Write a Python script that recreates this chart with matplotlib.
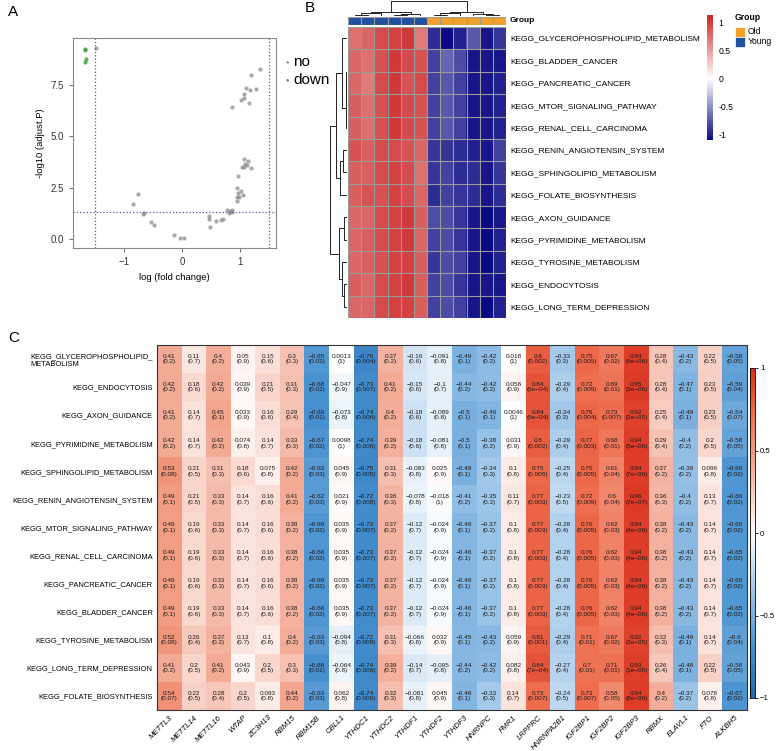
import numpy as np
import matplotlib.pyplot as plt
from matplotlib.colors import LinearSegmentedColormap
from matplotlib.patches import Rectangle

plt.rcParams['font.family'] = ['Liberation Sans', 'DejaVu Sans']

W, H = 777, 751


def box(x0, y0, x1, y1):
    # pixel box, origin top-left -> figure fraction
    return [x0 / W, 1 - y1 / H, (x1 - x0) / W, (y1 - y0) / H]


def ftxt(x, y, s, **kw):
    fig.text(x / W, 1 - y / H, s, **kw)


# ---------------- panel A data ----------------
fc_no = [-1.48, 1.34, 1.19, 1.11, 1.17, 1.27, 1.06, 1.07, 1.01, 1.15, 0.87,
         1.06, 1.14, 1.09, 1.12, 1.04, 1.07, 1.19, 0.97, 0.95, 0.96, 1.02, 1.05,
         0.99, 0.95, 0.94, 0.78, 0.83, 0.87, 0.81, 0.86, -0.76, -0.84, -0.67,
         -0.65, -0.53, -0.48, -0.13, -0.03, 0.03, 0.46, 0.47, 0.49, 0.59, 0.68, 0.70]
logp_no = [9.28, 8.29, 8.0, 7.33, 7.25, 7.32, 7.04, 6.85, 6.76, 6.63, 6.41,
           3.87, 3.8, 3.67, 3.59, 3.51, 3.5, 3.43, 3.06, 2.46, 2.24, 2.33, 2.13,
           2.05, 2.02, 1.84, 1.40, 1.37, 1.40, 1.27, 1.30, 2.16, 1.71, 1.22,
           1.27, 0.81, 0.65, 0.20, 0.03, 0.03, 1.09, 0.94, 0.55, 0.89, 0.91, 0.94]
fc_down = [-1.68, -1.67, -1.66, -1.68]
logp_down = [9.25, 9.22, 8.76, 8.63]

# ---------------- panel B data ----------------
b_rows = ['KEGG_GLYCEROPHOSPHOLIPID_METABOLISM', 'KEGG_BLADDER_CANCER',
          'KEGG_PANCREATIC_CANCER', 'KEGG_MTOR_SIGNALING_PATHWAY',
          'KEGG_RENAL_CELL_CARCINOMA', 'KEGG_RENIN_ANGIOTENSIN_SYSTEM',
          'KEGG_SPHINGOLIPID_METABOLISM', 'KEGG_FOLATE_BIOSYNTHESIS',
          'KEGG_AXON_GUIDANCE', 'KEGG_PYRIMIDINE_METABOLISM',
          'KEGG_TYROSINE_METABOLISM', 'KEGG_ENDOCYTOSIS', 'KEGG_LONG_TERM_DEPRESSION']
b_groups = ['Young'] * 6 + ['Old'] * 6
b_vals = [
    [0.75, 0.80, 0.95, 1.00, 1.05, 0.70, -0.95, -1.10, -1.00, -0.75, -1.05, -0.90],
    [0.80, 0.75, 0.90, 1.05, 0.95, 0.90, -0.85, -0.70, -0.80, -1.05, -1.05, -1.05],
    [0.80, 0.70, 0.95, 1.05, 0.90, 0.95, -0.85, -0.75, -0.85, -1.05, -1.05, -1.00],
    [0.85, 0.75, 0.90, 1.05, 0.95, 0.90, -0.85, -0.75, -0.85, -1.05, -1.05, -1.00],
    [0.85, 0.75, 0.90, 1.05, 0.95, 0.90, -0.85, -0.75, -0.85, -1.05, -1.05, -1.00],
    [0.90, 0.85, 0.95, 0.95, 0.90, 0.80, -0.90, -0.90, -0.95, -1.00, -1.05, -0.85],
    [0.85, 0.85, 0.95, 1.00, 0.95, 0.75, -0.90, -0.85, -0.95, -0.95, -1.05, -0.90],
    [0.85, 0.90, 0.90, 1.00, 0.95, 0.80, -0.95, -0.85, -0.90, -0.95, -1.05, -0.95],
    [0.80, 0.80, 0.95, 1.00, 1.05, 0.85, -0.80, -0.80, -0.90, -1.05, -1.10, -1.05],
    [0.80, 0.85, 0.95, 1.00, 1.05, 0.80, -0.85, -0.80, -0.90, -1.05, -1.10, -1.00],
    [0.80, 0.85, 0.90, 1.00, 1.00, 0.85, -0.90, -0.80, -0.85, -1.05, -1.10, -1.00],
    [0.85, 0.80, 0.95, 1.00, 1.05, 0.85, -0.85, -0.80, -0.90, -1.05, -1.05, -1.05],
    [0.80, 0.80, 0.95, 1.00, 1.00, 0.85, -0.85, -0.80, -0.85, -1.05, -1.10, -1.00],
]
# dendrograms: (left, right, height), leaves are display positions
b_row_tree = (((0, (((1, 2, 0.05), 3, 0.08), 4, 0.12), 0.6),
               ((5, 6, 0.5), 7, 0.8), 1.3),
              ((8, 9, 0.4), (10, (11, 12, 0.3), 0.6), 0.9), 2.0)
b_col_tree = ((((0, 1, 0.4), 2, 0.7), ((3, 4, 0.3), 5, 0.6), 1.2),
              (((6, 7, 0.4), 8, 0.7), (9, (10, 11, 0.3), 0.6), 1.2), 4.0)

# ---------------- panel C data ----------------
c_rows = ['KEGG_GLYCEROPHOSPHOLIPID_\nMETABOLISM', 'KEGG_ENDOCYTOSIS',
          'KEGG_AXON_GUIDANCE', 'KEGG_PYRIMIDINE_METABOLISM',
          'KEGG_SPHINGOLIPID_METABOLISM', 'KEGG_RENIN_ANGIOTENSIN_SYSTEM',
          'KEGG_MTOR_SIGNALING_PATHWAY', 'KEGG_RENAL_CELL_CARCINOMA',
          'KEGG_PANCREATIC_CANCER', 'KEGG_BLADDER_CANCER',
          'KEGG_TYROSINE_METABOLISM', 'KEGG_LONG_TERM_DEPRESSION',
          'KEGG_FOLATE_BIOSYNTHESIS']
c_genes = ['METTL3', 'METTL14', 'METTL16', 'WTAP', 'ZC3H13', 'RBM15', 'RBM15B',
           'CBLL1', 'YTHDC1', 'YTHDC2', 'YTHDF1', 'YTHDF2', 'YTHDF3', 'HNRNPC',
           'FMR1', 'LRPPRC', 'HNRNPA2B1', 'IGF2BP1', 'IGF2BP2', 'IGF2BP3', 'RBMX',
           'ELAVL1', 'FTO', 'ALKBH5']
mtor_r = [0.49, 0.19, 0.33, 0.14, 0.16, 0.38, -0.66, 0.035, -0.73, 0.37, -0.12, -0.024,
          -0.46, -0.37, 0.1, 0.77, -0.28, 0.76, 0.62, 0.94, 0.38, -0.43, 0.14, -0.65]
mtor_p = [0.1, 0.6, 0.3, 0.7, 0.6, 0.2, 0.02, 0.9, 0.007, 0.2, 0.7, 0.9,
          0.1, 0.2, 0.8, 0.003, 0.4, 0.005, 0.03, 4e-06, 0.2, 0.2, 0.7, 0.02]
c_r = [
    [0.41, 0.11, 0.4, 0.05, 0.15, 0.3, -0.65, 0.0013, -0.76, 0.37, -0.16, -0.091,
     -0.49, -0.42, 0.018, 0.8, -0.33, 0.75, 0.67, 0.94, 0.28, -0.43, 0.22, -0.58],
    [0.42, 0.18, 0.42, 0.039, 0.21, 0.31, -0.68, -0.047, -0.73, 0.41, -0.15, -0.1,
     -0.44, -0.42, 0.056, 0.84, -0.29, 0.72, 0.69, 0.95, 0.28, -0.47, 0.23, -0.59],
    [0.41, 0.14, 0.45, 0.033, 0.16, 0.29, -0.69, -0.073, -0.74, 0.4, -0.18, -0.089,
     -0.5, -0.46, 0.0046, 0.84, -0.34, 0.76, 0.73, 0.92, 0.25, -0.49, 0.23, -0.54],
    [0.42, 0.14, 0.42, 0.074, 0.14, 0.33, -0.67, 0.0098, -0.74, 0.39, -0.18, -0.081,
     -0.5, -0.38, 0.031, 0.8, -0.29, 0.77, 0.68, 0.94, 0.29, -0.4, 0.2, -0.58],
    [0.53, 0.21, 0.31, 0.18, 0.075, 0.42, -0.63, 0.045, -0.75, 0.31, -0.083, 0.025,
     -0.49, -0.34, 0.1, 0.75, -0.25, 0.75, 0.61, 0.94, 0.37, -0.39, 0.096, -0.66],
    [0.49, 0.21, 0.33, 0.14, 0.16, 0.41, -0.62, 0.021, -0.72, 0.36, -0.078, -0.018,
     -0.41, -0.35, 0.11, 0.77, -0.23, 0.72, 0.6, 0.96, 0.36, -0.4, 0.13, -0.66],
    mtor_r, mtor_r, mtor_r, mtor_r,
    [0.52, 0.26, 0.37, 0.13, 0.1, 0.4, -0.63, -0.094, -0.72, 0.31, -0.066, 0.032,
     -0.45, -0.43, 0.059, 0.81, -0.29, 0.71, 0.67, 0.92, 0.32, -0.49, 0.14, -0.6],
    [0.41, 0.2, 0.41, 0.043, 0.2, 0.3, -0.69, -0.064, -0.74, 0.39, -0.14, -0.095,
     -0.44, -0.42, 0.082, 0.84, -0.27, 0.7, 0.71, 0.93, 0.26, -0.48, 0.22, -0.58],
    [0.54, 0.22, 0.28, 0.2, 0.093, 0.44, -0.63, 0.062, -0.74, 0.32, -0.081, 0.045,
     -0.46, -0.33, 0.14, 0.73, -0.24, 0.73, 0.58, 0.94, 0.4, -0.37, 0.078, -0.67],
]
c_p = [
    [0.2, 0.7, 0.2, 0.9, 0.6, 0.3, 0.02, 1, 0.004, 0.2, 0.6, 0.8,
     0.1, 0.2, 1, 0.002, 0.3, 0.005, 0.02, 6e-06, 0.4, 0.2, 0.5, 0.05],
    [0.2, 0.6, 0.2, 0.9, 0.5, 0.3, 0.02, 0.9, 0.007, 0.2, 0.6, 0.7,
     0.2, 0.2, 0.9, 6e-04, 0.4, 0.009, 0.01, 3e-06, 0.4, 0.1, 0.5, 0.04],
    [0.2, 0.7, 0.1, 0.9, 0.6, 0.4, 0.01, 0.8, 0.006, 0.2, 0.6, 0.8,
     0.1, 0.1, 1, 6e-04, 0.3, 0.004, 0.007, 2e-05, 0.4, 0.1, 0.5, 0.07],
    [0.2, 0.7, 0.2, 0.8, 0.7, 0.3, 0.02, 1, 0.006, 0.2, 0.6, 0.8,
     0.1, 0.2, 0.9, 0.002, 0.4, 0.003, 0.01, 5e-06, 0.4, 0.2, 0.5, 0.05],
    [0.08, 0.5, 0.3, 0.6, 0.8, 0.2, 0.03, 0.9, 0.005, 0.3, 0.8, 0.9,
     0.1, 0.3, 0.8, 0.005, 0.4, 0.005, 0.04, 7e-06, 0.2, 0.2, 0.8, 0.02],
    [0.1, 0.5, 0.3, 0.7, 0.6, 0.2, 0.03, 0.9, 0.008, 0.3, 0.8, 1,
     0.2, 0.3, 0.7, 0.003, 0.5, 0.009, 0.04, 7e-07, 0.3, 0.2, 0.7, 0.02],
    mtor_p, mtor_p, mtor_p, mtor_p,
    [0.08, 0.4, 0.2, 0.7, 0.8, 0.2, 0.03, 0.8, 0.009, 0.3, 0.8, 0.9,
     0.1, 0.2, 0.9, 0.001, 0.4, 0.01, 0.02, 3e-05, 0.3, 0.1, 0.7, 0.04],
    [0.2, 0.5, 0.2, 0.9, 0.5, 0.3, 0.01, 0.8, 0.006, 0.2, 0.7, 0.8,
     0.2, 0.2, 0.8, 7e-04, 0.4, 0.01, 0.01, 1e-05, 0.4, 0.1, 0.5, 0.05],
    [0.07, 0.5, 0.4, 0.5, 0.8, 0.2, 0.03, 0.8, 0.006, 0.3, 0.8, 0.9,
     0.1, 0.3, 0.7, 0.007, 0.5, 0.007, 0.05, 8e-06, 0.2, 0.2, 0.8, 0.02],
]

fig = plt.figure(figsize=(7.77, 7.51), dpi=100)

# ================= A: volcano =================
axA = fig.add_axes(box(73, 38, 276, 248))
axA.scatter(fc_no, logp_no, s=9, color='#8c8c8c', alpha=0.75, lw=0)
axA.scatter(fc_down, logp_down, s=9, color='#3f9b3f', alpha=0.8, lw=0)
axA.axvline(-1.5, color='#4b5bb5', ls=':', lw=0.9)
axA.axvline(1.5, color='#4b5bb5', ls=':', lw=0.9)
axA.axhline(-np.log10(0.05), color='#4b5bb5', ls=':', lw=0.9)
axA.set_xlim(-1.88, 1.62)
axA.set_ylim(-0.45, 9.79)
axA.set_xticks([-1, 0, 1])
axA.set_yticks([0, 2.5, 5, 7.5])
axA.set_yticklabels(['0.0', '2.5', '5.0', '7.5'])
axA.tick_params(labelsize=7, colors='#555555', length=3, width=0.6, labelcolor='#333333')
for s in axA.spines.values():
    s.set_color('#888888')
    s.set_linewidth(0.8)
axA.set_xlabel('log (fold change)', fontsize=6.8, labelpad=4)
axA.set_ylabel('-log10 (adjust.P)', fontsize=6.8, labelpad=4)
ftxt(287, 62, '\u25cf', fontsize=4, color='#8c8c8c', ha='center', va='center')
ftxt(287, 80, '\u25cf', fontsize=4, color='#3f9b3f', ha='center', va='center')
ftxt(293, 62, 'no', fontsize=11, va='center')
ftxt(293, 80, 'down', fontsize=11, va='center')

# ================= B: pheatmap =================
b_cmap = LinearSegmentedColormap.from_list('nwf', ['#000080', '#ffffff', '#CD2626'])
bv = np.array(b_vals)
nr, nc = bv.shape
x0B, x1B, y0B, y1B = 348, 506, 27, 318
axB = fig.add_axes(box(x0B, y0B, x1B, y1B))
axB.imshow(bv, cmap=b_cmap, vmin=-1.15, vmax=1.15, aspect='auto')
for i in range(nr + 1):
    axB.axhline(i - 0.5, color='#9a9a9a', lw=0.8)
for j in range(nc + 1):
    axB.axvline(j - 0.5, color='#9a9a9a', lw=0.8)
axB.set_xticks([])
axB.set_yticks(range(nr))
axB.set_yticklabels(b_rows, fontsize=6.0)
axB.yaxis.tick_right()
axB.tick_params(axis='y', length=0, pad=3)
for s in axB.spines.values():
    s.set_visible(False)

# annotation bar
grp_col = {'Old': '#F2A22A', 'Young': '#2050A0'}
axAnn = fig.add_axes(box(x0B, 17, x1B, 25))
for j, g in enumerate(b_groups):
    axAnn.add_patch(Rectangle((j, 0), 1, 1, facecolor=grp_col[g], edgecolor='#9a9a9a', lw=0.8))
axAnn.set_xlim(0, nc)
axAnn.set_ylim(0, 1)
axAnn.axis('off')
ftxt(510, 21, 'Group', fontsize=6.0, fontweight='bold', va='center')


def dendro(ax, tree, orient):
    def walk(node):
        if isinstance(node, int):
            return node, 0.0
        l, r, h = node
        pl, hl = walk(l)
        pr, hr = walk(r)
        if orient == 'top':
            ax.plot([pl, pl, pr, pr], [hl, h, h, hr], color='#222222', lw=0.7)
        else:
            ax.plot([hl, h, h, hr], [pl, pl, pr, pr], color='#222222', lw=0.7)
        return (pl + pr) / 2, h
    return walk(tree)


axCD = fig.add_axes(box(x0B, 1, x1B, 16))
dendro(axCD, b_col_tree, 'top')
axCD.set_xlim(-0.5, nc - 0.5)
axCD.set_ylim(0, b_col_tree[2] * 1.02)
axCD.axis('off')

axRD = fig.add_axes(box(330, y0B, 347, y1B))
dendro(axRD, b_row_tree, 'left')
axRD.set_ylim(nr - 0.5, -0.5)
axRD.set_xlim(b_row_tree[2] * 1.02, 0)
axRD.axis('off')

# legend colorbar
axBL = fig.add_axes(box(707, 15, 713, 140))
grad = np.linspace(1.14, -1.09, 100)[:, None]
axBL.imshow(grad, cmap=b_cmap, vmin=-1.15, vmax=1.15, aspect='auto',
            extent=[0, 1, -1.09, 1.14])
axBL.set_xticks([])
axBL.yaxis.tick_right()
axBL.set_yticks([1, 0.5, 0, -0.5, -1])
axBL.set_yticklabels(['1', '0.5', '0', '-0.5', '-1'], fontsize=6.2)
axBL.tick_params(axis='y', length=0, pad=4)
for s in axBL.spines.values():
    s.set_visible(False)

ftxt(735, 18, 'Group', fontsize=6.2, fontweight='bold', va='center')
for k, g in enumerate(['Old', 'Young']):
    yy = 27 + 10 * k
    fig.patches.append(Rectangle((735 / W, 1 - (yy + 10) / H), 10 / W, 10 / H,
                                 transform=fig.transFigure, facecolor=grp_col[g],
                                 edgecolor='white', lw=0.5))
    ftxt(748, yy + 5, g, fontsize=6.2, va='center')

# ================= C: correlation heatmap =================
c_cmap = LinearSegmentedColormap.from_list(
    'rb', [(0.0, '#2166AC'), (0.15, '#4690CF'), (0.3, '#92BFE6'), (0.5, '#FFFFFF'),
           (0.7, '#F4AE99'), (0.875, '#EE6A4B'), (1.0, '#D7301F')])
cr = np.array(c_r)
cp = np.array(c_p)
axC = fig.add_axes(box(157, 345, 747, 710))
axC.imshow(cr, cmap=c_cmap, vmin=-1, vmax=1, aspect='auto')


def fmt(v):
    s = ('%.0e' % v) if (0 < v < 0.001) else ('%g' % v)
    return s.replace('-', '\u2212')


for i in range(cr.shape[0]):
    for j in range(cr.shape[1]):
        axC.text(j, i, fmt(cr[i, j]) + '\n(' + fmt(cp[i, j]) + ')', ha='center',
                 va='center', fontsize=4.6, linespacing=1.15, color='#1a1a1a')
axC.set_xticks(range(len(c_genes)))
axC.set_xticklabels(c_genes, rotation=45, ha='right', rotation_mode='anchor',
                    fontsize=5.6, style='italic')
axC.set_yticks(range(len(c_rows)))
labs = axC.set_yticklabels(c_rows, fontsize=5.4)
labs[0].set_multialignment('left')
axC.tick_params(length=0, pad=3)
for s in axC.spines.values():
    s.set_color('#333333')
    s.set_linewidth(0.8)

axCC = fig.add_axes(box(750, 368, 755, 698))
grad = np.linspace(1, -1, 200)[:, None]
axCC.imshow(grad, cmap=c_cmap, vmin=-1, vmax=1, aspect='auto', extent=[0, 1, -1, 1])
axCC.set_xticks([])
axCC.yaxis.tick_right()
axCC.set_yticks([1, 0.5, 0, -0.5, -1])
axCC.set_yticklabels(['1', '0.5', '0', '\u22120.5', '\u22121'], fontsize=5.6)
axCC.tick_params(axis='y', length=2.5, width=0.6, pad=1)
for s in axCC.spines.values():
    s.set_linewidth(0.6)

# panel letters
ftxt(8, 12, 'A', fontsize=11, va='center')
ftxt(305, 8, 'B', fontsize=11, va='center')
ftxt(8, 338, 'C', fontsize=11, va='center')

fig.savefig('out.png', dpi=100)
